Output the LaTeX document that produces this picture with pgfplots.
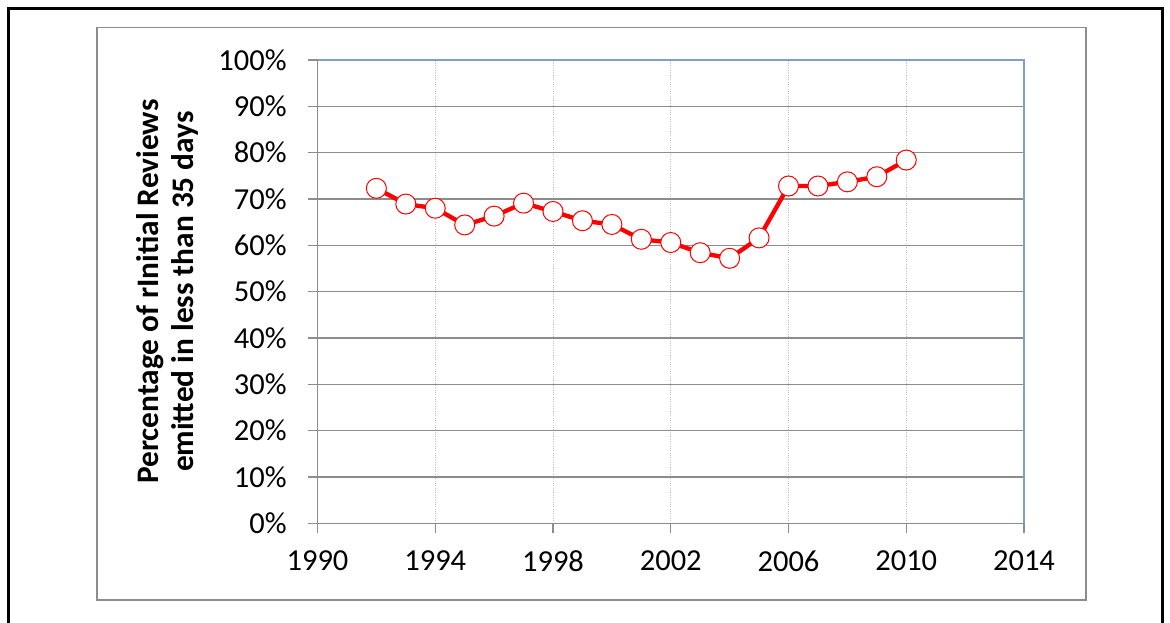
\documentclass[border=0pt]{standalone}
\usepackage{pgfplots}
\pgfplotsset{compat=1.18}
\usepackage{fontspec}
\setmainfont{Carlito}
\definecolor{plotblue}{HTML}{7F9FD3}
\definecolor{gridgray}{HTML}{8C8C8C}
\begin{document}
\begin{tikzpicture}[x=0.6pt,y=0.6pt]
\path[use as bounding box] (0,0) rectangle (1170,-622);
\draw[line width=1.8pt] (8,-630)--(8,-8)--(1162,-8)--(1162,-630);
\draw[gridgray, line width=0.9pt] (97,-27.5) rectangle (1086,-600);
\coordinate (A) at (317.5,-523.3);
\begin{axis}[
  at={(A)}, anchor=south west,
  scale only axis, width=423.9pt, height=278pt,
  xmin=1990, xmax=2014, ymin=0, ymax=100,
  xtick={1990,1994,...,2014}, ytick={0,10,...,100},
  xticklabel={\pgfmathprintnumber[1000 sep={},fixed]{\tick}},
  yticklabel={\pgfmathprintnumber{\tick}\%},
  /pgf/number format/assume math mode=true,
  tick label style={font=\fontsize{18.3}{22}\selectfont, text=black},
  xticklabel style={yshift=-7pt},
  yticklabel style={xshift=-9pt},
  tick align=outside, xtick pos=left, ytick pos=left,
  major tick length=6pt,
  tick style={gridgray, line width=0.7pt},
  axis line style={gridgray, line width=0.8pt},
  ymajorgrids, xmajorgrids,
  y grid style={gridgray, line width=0.8pt},
  x grid style={lightgray, densely dotted, line width=0.5pt},
  axis x line*=bottom, axis y line*=left,
  clip=false,
  ylabel={Percentage of rInitial Reviews\\ emitted in less than 35 days},
  ylabel style={at={(rel axis cs:-0.212,0.5)}, anchor=center, rotate=0, align=center,
    font=\bfseries\fontsize{18.8}{21}\selectfont},
]
\draw[plotblue, line width=0.8pt] (rel axis cs:0,1)--(rel axis cs:1,1)--(rel axis cs:1,0);
\addplot[red, line width=2.6pt, mark=*, mark size=6pt,
  mark options={fill=white, draw=red, line width=0.6pt}]
coordinates {
(1992,72.3) (1993,68.9) (1994,68.0) (1995,64.4) (1996,66.3) (1997,69.1)
(1998,67.3) (1999,65.3) (2000,64.5) (2001,61.3) (2002,60.6) (2003,58.4)
(2004,57.2) (2005,61.6) (2006,72.8) (2007,72.8) (2008,73.7) (2009,74.8)
(2010,78.4)
};
\end{axis}
\end{tikzpicture}
\end{document}
